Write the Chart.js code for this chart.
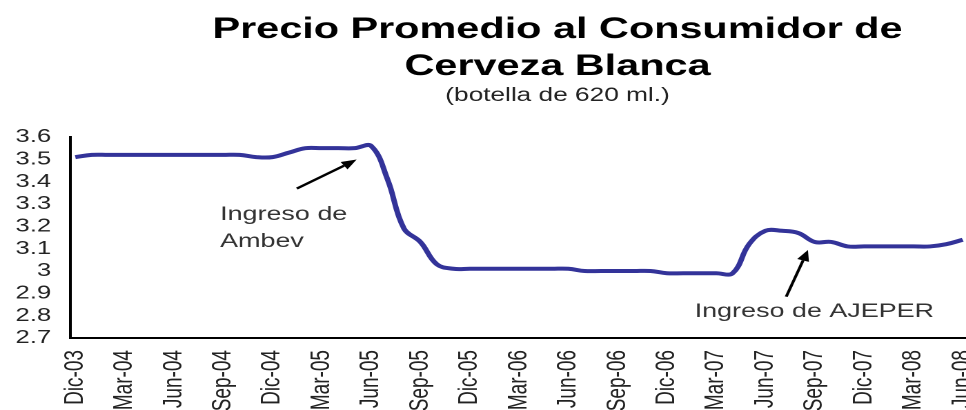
<!DOCTYPE html>
<html>
<head>
<meta charset="utf-8">
<script src="https://cdn.jsdelivr.net/npm/chart.js@4/dist/chart.umd.min.js"></script>
<style>
html,body{margin:0;padding:0;background:#fff;overflow:hidden;}
#wrap{width:700px;height:410px;transform:scaleX(1.38);transform-origin:0 0;}
</style>
</head>
<body>
<div id="wrap"><canvas id="c" width="700" height="410"></canvas></div>
<script>
// ---- data ----
const months = ['Dic-03','Ene-04','Feb-04','Mar-04','Abr-04','May-04','Jun-04','Jul-04','Ago-04','Sep-04','Oct-04','Nov-04',
  'Dic-04','Ene-05','Feb-05','Mar-05','Abr-05','May-05','Jun-05','Jul-05','Ago-05','Sep-05','Oct-05','Nov-05',
  'Dic-05','Ene-06','Feb-06','Mar-06','Abr-06','May-06','Jun-06','Jul-06','Ago-06','Sep-06','Oct-06','Nov-06',
  'Dic-06','Ene-07','Feb-07','Mar-07','Abr-07','May-07','Jun-07','Jul-07','Ago-07','Sep-07','Oct-07','Nov-07',
  'Dic-07','Ene-08','Feb-08','Mar-08','Abr-08','May-08','Jun-08'];
const prices = [3.51,3.52,3.52,3.52,3.52,3.52,3.52,3.52,3.52,3.52,3.52,3.51,
  3.51,3.53,3.55,3.55,3.55,3.55,3.56,3.41,3.19,3.13,3.03,3.01,
  3.01,3.01,3.01,3.01,3.01,3.01,3.01,3.00,3.00,3.00,3.00,3.00,
  2.99,2.99,2.99,2.99,2.99,3.12,3.18,3.18,3.17,3.13,3.13,3.11,
  3.11,3.11,3.11,3.11,3.11,3.12,3.14];
const xTickLabels = ['Dic-03','Mar-04','Jun-04','Sep-04','Dic-04','Mar-05','Jun-05','Sep-05','Dic-05',
  'Mar-06','Jun-06','Sep-06','Dic-06','Mar-07','Jun-07','Sep-07','Dic-07','Mar-08','Jun-08'];
const yTickLabels = ['2.7','2.8','2.9','3','3.1','3.2','3.3','3.4','3.5','3.6'];
const titleLines = ['Precio Promedio al Consumidor de','Cerveza Blanca'];
const subtitleText = '(botella de 620 ml.)';
const noteAmbev = ['Ingreso de','Ambev'];
const noteAjeper = ['Ingreso de AJEPER'];

// ---- drawing ----
const FONT = "'Liberation Sans', Arial, Helvetica, sans-serif";
Chart.defaults.font.family = FONT;

const annotations = [
  {texts:[{t:noteAmbev[0], x:8.81, y:3.228},{t:noteAmbev[1], x:8.81, y:3.107}],
   from:[13.48,3.369], to:[17.12,3.499]},
  {texts:[{t:noteAjeper[0], x:37.69, y:2.795}],
   from:[43.26,2.885], to:[44.58,3.094]}
];

const decor = {
  id:'decor',
  afterDraw(chart){
    const ctx = chart.ctx, xs = chart.scales.x, ys = chart.scales.y;
    ctx.save();
    // title
    ctx.fillStyle = '#000';
    ctx.textAlign = 'center';
    ctx.textBaseline = 'alphabetic';
    ctx.font = 'bold 30px ' + FONT;
    ctx.fillText(titleLines[0], 404, 38);
    ctx.fillText(titleLines[1], 404, 75);
    ctx.font = '19px ' + FONT;
    ctx.fillStyle = '#222';
    ctx.fillText(subtitleText, 404, 101);
    // notes
    ctx.textAlign = 'left';
    ctx.font = '19.5px ' + FONT;
    ctx.fillStyle = '#333';
    annotations.forEach(a => {
      a.texts.forEach(s => ctx.fillText(s.t, xs.getPixelForValue(s.x), ys.getPixelForValue(s.y)));
      const x0 = xs.getPixelForValue(a.from[0]), y0 = ys.getPixelForValue(a.from[1]);
      const x1 = xs.getPixelForValue(a.to[0]), y1 = ys.getPixelForValue(a.to[1]);
      const ang = Math.atan2(y1 - y0, x1 - x0);
      const hl = 11, hw = 4.5;
      const bx = x1 - hl * Math.cos(ang), by = y1 - hl * Math.sin(ang);
      ctx.strokeStyle = '#000';
      ctx.lineWidth = 2.2;
      ctx.beginPath();
      ctx.moveTo(x0, y0);
      ctx.lineTo(bx, by);
      ctx.stroke();
      ctx.fillStyle = '#000';
      ctx.beginPath();
      ctx.moveTo(x1, y1);
      ctx.lineTo(bx + hw * Math.sin(ang), by - hw * Math.cos(ang));
      ctx.lineTo(bx - hw * Math.sin(ang), by + hw * Math.cos(ang));
      ctx.closePath();
      ctx.fill();
      ctx.fillStyle = '#333';
    });
    ctx.restore();
  }
};

new Chart(document.getElementById('c'), {
  type:'line',
  data:{
    datasets:[{
      data: prices.map((v,i) => ({x:i, y:v})),
      borderColor:'#333399',
      borderWidth:4,
      pointRadius:0,
      tension:0.4,
      fill:false
    }]
  },
  options:{
    responsive:false,
    animation:false,
    devicePixelRatio:2,
    layout:{padding:{left:8, right:0, top:137, bottom:0}},
    plugins:{legend:{display:false}, title:{display:false}, tooltip:{enabled:false}},
    scales:{
      x:{
        type:'linear',
        min:-0.3, max:54.2,
        grid:{display:true, color:'rgba(0,0,0,0)', drawTicks:false},
        border:{display:true, color:'#000', width:2},
        afterBuildTicks: s => { s.ticks = xTickLabels.map(l => ({value: months.indexOf(l)})); },
        ticks:{
          autoSkip:false, maxRotation:90, minRotation:90, padding:12,
          color:'#222', font:{size:19},
          callback: v => months[v]
        },
        afterFit: s => { s.height = 72; s.paddingLeft = 0; s.paddingRight = 0; }
      },
      y:{
        min:2.7, max:3.6,
        grid:{display:true, color:'rgba(0,0,0,0)', drawTicks:false},
        border:{display:true, color:'#000', width:2},
        afterBuildTicks: s => { s.ticks = yTickLabels.map(l => ({value: Number(l)})); },
        ticks:{
          autoSkip:false, padding:14, color:'#222', font:{size:18.5},
          callback: (v, i) => yTickLabels[i]
        },
        afterFit: s => { s.width = 43; }
      }
    }
  },
  plugins:[decor]
});
</script>
</body>
</html>
